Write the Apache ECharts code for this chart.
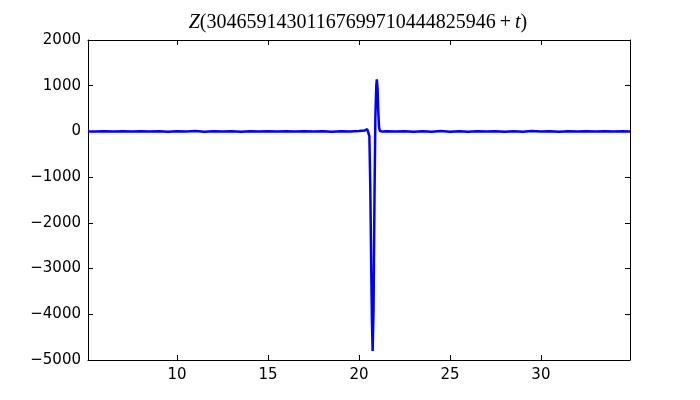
<!DOCTYPE html>
<html><head><meta charset="utf-8">
<script src="https://cdn.jsdelivr.net/npm/echarts@6/dist/echarts.min.js"></script>
<style>html,body{margin:0;padding:0;background:#fff}#c{width:700px;height:400px}</style>
</head><body><div id="c"></div>
<script>
// t values and Z values
const tVals = [5.1,5.5,6,6.5,7,7.5,8,8.5,9,9.5,10,10.5,11,11.5,12,12.5,13,13.5,14,14.5,15,15.5,16,16.5,17,17.5,18,18.5,19,19.5,20,20.3,20.45,20.52,20.57,20.62,20.67,20.71,20.75,20.8,20.85,20.9,20.95,20.98,21.02,21.06,21.1,21.15,21.3,21.5,22,22.5,23,23.5,24,24.5,25,25.5,26,26.5,27,27.5,28,28.5,29,29.5,30,30.5,31,31.5,32,32.5,33,33.5,34,34.5,34.9];
const zVals = [1,-2,2,-1,2,-3,3,-2,4,-5,6,-4,7,-6,5,-3,4,-7,6,-3,2,-2,3,-2,3,-4,3,-5,4,-3,10,20,50,75,-100,-1200,-2900,-4100,-4800,-3900,-1500,300,1000,1140,950,450,100,10,-4,3,-4,6,-5,4,-6,7,-5,6,-7,5,-4,6,-7,5,-6,7,-4,5,-6,4,-3,4,-3,2,-2,3,1];
const xTicks = [10,15,20,25,30];
const yMin = -5000, yMax = 2000, yStep = 1000;
const xMin = 5.1, xMax = 34.9;
const titleNum = '30465914301167699710444825946';

const data = tVals.map((t,i)=>[t,zVals[i]]);
const chart = echarts.init(document.getElementById('c'), null, {renderer:'canvas'});
const lbl = {fontFamily:'DejaVu Sans', fontSize:15, color:'#000'};
chart.setOption({
  animation:false,
  title:{
    text:'{i|Z}{r|(' + titleNum + '\u2009+\u2009}{i|t}{r|)}',
    left:353, textAlign:'center', top:8,
    textStyle:{fontWeight:'normal', rich:{
      i:{fontFamily:'Liberation Serif', fontStyle:'italic', fontWeight:'normal', fontSize:20, color:'#000'},
      r:{fontFamily:'Liberation Serif', fontWeight:'normal', fontSize:20, color:'#000'}
    }}
  },
  grid:{left:88, right:70, top:40, bottom:40, containLabel:false},
  xAxis:[{
    type:'value', min:xMin, max:xMax, position:'bottom',
    axisLine:{show:true, onZero:false, lineStyle:{color:'#000', width:1}},
    axisTick:{show:true, inside:true, length:5, customValues:xTicks, lineStyle:{color:'#000'}},
    axisLabel:{customValues:xTicks, margin:8, ...lbl},
    splitLine:{show:false}
  },{
    type:'value', min:xMin, max:xMax, position:'top',
    axisLine:{show:true, onZero:false, lineStyle:{color:'#000', width:1}},
    axisTick:{show:true, inside:true, length:5, customValues:xTicks, lineStyle:{color:'#000'}},
    axisLabel:{show:false},
    splitLine:{show:false}
  }],
  yAxis:[{
    type:'value', min:yMin, max:yMax, interval:yStep, position:'left',
    axisLine:{show:true, onZero:false, lineStyle:{color:'#000', width:1}},
    axisTick:{show:true, inside:true, length:5, lineStyle:{color:'#000'}},
    axisLabel:{margin:7, ...lbl, formatter:v=>String(v).replace('-','\u2212')},
    splitLine:{show:false}
  },{
    type:'value', min:yMin, max:yMax, interval:yStep, position:'right',
    axisLine:{show:true, onZero:false, lineStyle:{color:'#000', width:1}},
    axisTick:{show:true, inside:true, length:5, lineStyle:{color:'#000'}},
    axisLabel:{show:false},
    splitLine:{show:false}
  }],
  series:[{
    type:'line', data:data, xAxisIndex:0, yAxisIndex:0,
    showSymbol:false, symbol:'none', smooth:false,
    lineStyle:{color:'#0000ff', width:2.5},
    z:1
  }]
});
</script></body></html>
